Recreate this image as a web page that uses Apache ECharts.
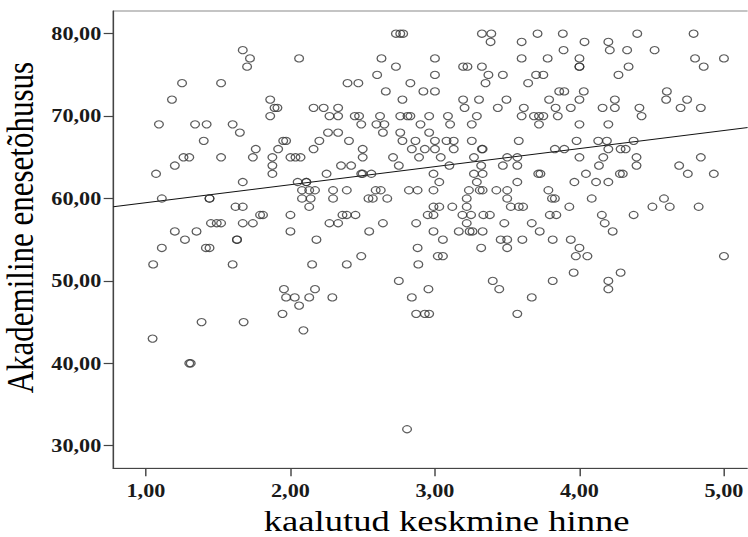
<!DOCTYPE html>
<html><head><meta charset="utf-8">
<script src="https://cdn.jsdelivr.net/npm/echarts@6/dist/echarts.min.js"></script>
<style>
html,body{margin:0;padding:0;background:#fff;overflow:hidden}
#wrap{width:748px;height:537px;overflow:hidden;position:relative;background:#fff}
#chart{width:623.33px;height:537px;transform:scaleX(1.2);transform-origin:0 0}
</style></head>
<body><div id="wrap"><div id="chart"></div></div>
<script>
// Akademiline enesetõhusus (y, integer levels) and kaalutud keskmine hinne (x) per level
const scoreLevels = [80,79,78,77,76,75,74,73,72,71,70,69,68,67,66,65,64,63,62,61,60,59,58,57,56,55,54,53,52,51,50,49,48,47,46,45,44,43,40,32];
const gradesAtLevel = [
  [2.73,2.76,2.78,3.325,3.39,3.71,3.885,4.40,4.79],
  [3.385,3.60,4.035,4.20],
  [1.67,3.89,4.21,4.33,4.52],
  [1.72,2.06,2.63,3.00,3.60,3.78,4.00,4.80,5.00],
  [1.70,2.73,3.195,3.225,3.325,4.00,4.00,4.34,4.86],
  [2.60,3.00,3.37,3.47,3.70,3.75,4.27],
  [1.25,1.52,2.395,2.47,2.83,3.35,3.645],
  [2.66,2.92,3.00,3.86,3.895,4.03,4.605],
  [1.18,1.86,2.775,3.195,3.305,3.495,3.79,4.00,4.245,4.60,4.745],
  [1.89,1.91,2.16,2.23,2.33,3.205,3.435,3.615,3.835,3.94,4.16,4.245,4.415,4.70,4.84],
  [1.86,2.27,2.33,2.445,2.475,2.62,2.76,2.81,2.83,2.96,3.09,3.29,3.60,3.685,3.72,3.75,3.85,4.43],
  [1.09,1.34,1.42,1.60,2.49,2.595,2.65,2.90,3.105,3.255,3.72,4.00,4.20],
  [1.65,2.26,2.33,2.64,2.76,2.96],
  [1.40,1.95,1.97,2.20,2.405,2.775,2.865,3.00,3.08,3.13,3.255,3.58,3.98,4.13,4.19,4.375],
  [1.76,1.915,2.16,2.50,2.84,2.93,3.00,3.13,3.325,3.33,3.83,3.895,4.20,4.285,4.32],
  [1.26,1.30,1.52,1.74,1.875,2.00,2.035,2.07,2.50,2.71,2.89,3.04,3.27,3.50,3.57,4.00,4.165,4.395,4.84],
  [1.20,1.875,2.35,2.42,2.75,3.10,3.32,3.47,3.57,4.135,4.395,4.69],
  [1.07,1.875,2.25,2.49,2.50,2.56,2.99,3.27,3.33,3.715,3.73,4.045,4.28,4.30,4.75,4.93],
  [1.67,2.05,2.11,2.11,3.03,3.29,3.57,3.965,4.115,4.20],
  [2.08,2.13,2.17,2.295,2.39,2.59,2.625,2.82,2.88,2.99,3.235,3.31,3.33,3.425,3.50,3.785],
  [1.11,1.44,1.44,2.08,2.14,2.295,2.54,2.57,2.67,3.22,3.50,3.81,3.83,4.085,4.585],
  [1.62,1.67,2.13,2.99,3.03,3.12,3.22,3.525,3.58,3.61,3.93,4.505,4.625,4.825],
  [1.79,1.81,2.00,2.36,2.39,2.45,2.95,2.99,3.19,3.25,3.335,3.38,3.795,3.84,4.155,4.375],
  [1.45,1.49,1.52,1.67,1.74,2.27,2.33,2.64,2.87,3.22,3.48,3.67,4.175],
  [1.20,1.35,2.00,2.545,2.99,3.165,3.24,3.26,3.33,3.725,4.23],
  [1.27,1.63,1.63,2.18,3.055,3.455,3.50,3.605,3.815,3.94],
  [1.11,1.415,1.44,2.88,3.32,3.50,4.00],
  [2.49,3.02,3.055,3.975,4.055,5.00],
  [1.05,1.60,2.15,2.39,2.885],
  [3.96,4.285],
  [2.75,3.40,3.815,4.20],
  [1.955,2.17,2.955,3.445,4.20],
  [1.97,2.03,2.13,2.29,2.84,3.67],
  [2.06],
  [1.945,2.87,2.93,2.96,3.57],
  [1.385,1.676],
  [2.09],
  [1.046],
  [1.30,1.31],
  [2.807]
];
const xTicks = [1,2,3,4,5];
const yTicks = [30,40,50,60,70,80];
const xTitle = 'kaalutud keskmine hinne';
const yTitle = 'Akademiline enesetõhusus';
const fitIntercept = 57.3;
const fitSlope = 2.19;
const xRange = [0.774, 5.172];
const yRange = [27.257, 82.755];

const points = [];
scoreLevels.forEach((lv, i) => gradesAtLevel[i].forEach(g => points.push([g, lv])));
const fitLine = xRange.map(x => [x, fitIntercept + fitSlope * x]);
const fmt = v => v.toFixed(2).replace('.', ',');
const FONT = '"Liberation Serif","Times New Roman",serif';

const chart = echarts.init(document.getElementById('chart'), null, {renderer: 'svg'});
chart.setOption({
  animation: false,
  backgroundColor: '#fff',
  grid: {left: 94.4, top: 11, right: -1, bottom: 68.7, show: true, borderColor: '#8a8a8a', borderWidth: 1,
         containLabel: false, outerBoundsMode: 'none'},
  xAxis: {
    type: 'value', min: xRange[0], max: xRange[1],
    name: xTitle, nameLocation: 'middle', nameGap: 29,
    nameTextStyle: {fontFamily: FONT, fontSize: 30.5, color: '#000', padding: [0, 0, 0, 26]},
    axisLine: {show: true, onZero: false, lineStyle: {color: '#444', width: 1.2}},
    axisTick: {show: true, inside: false, length: 8, customValues: xTicks, lineStyle: {color: '#444', width: 1.2}},
    axisLabel: {show: true, customValues: xTicks, formatter: fmt, margin: 13, fontFamily: FONT, fontSize: 18.5, fontWeight: 'bold', color: '#1a1a1a'},
    splitLine: {show: false}
  },
  yAxis: {
    type: 'value', min: yRange[0], max: yRange[1],
    name: yTitle, nameLocation: 'middle', nameGap: 62,
    nameTextStyle: {fontFamily: FONT, fontSize: 31, lineHeight: 28, color: '#000', padding: [0, 0, 0, 24]},
    axisLine: {show: true, onZero: false, lineStyle: {color: '#444', width: 1.2}},
    axisTick: {show: true, inside: false, length: 8, customValues: yTicks, lineStyle: {color: '#444', width: 1.2}},
    axisLabel: {show: true, customValues: yTicks, formatter: fmt, margin: 10, fontFamily: FONT, fontSize: 18.5, fontWeight: 'bold', color: '#1a1a1a'},
    splitLine: {show: false}
  },
  series: [
    {
      type: 'line', data: fitLine, showSymbol: false, symbol: 'none', silent: true,
      lineStyle: {color: '#111', width: 1.1}, z: 2
    },
    {
      type: 'scatter', data: points, symbol: 'circle', symbolSize: [7.3, 7.2],
      itemStyle: {color: 'rgba(0,0,0,0)', borderColor: '#333', borderWidth: 1.1}, z: 3
    }
  ]
});
</script>
</body></html>
